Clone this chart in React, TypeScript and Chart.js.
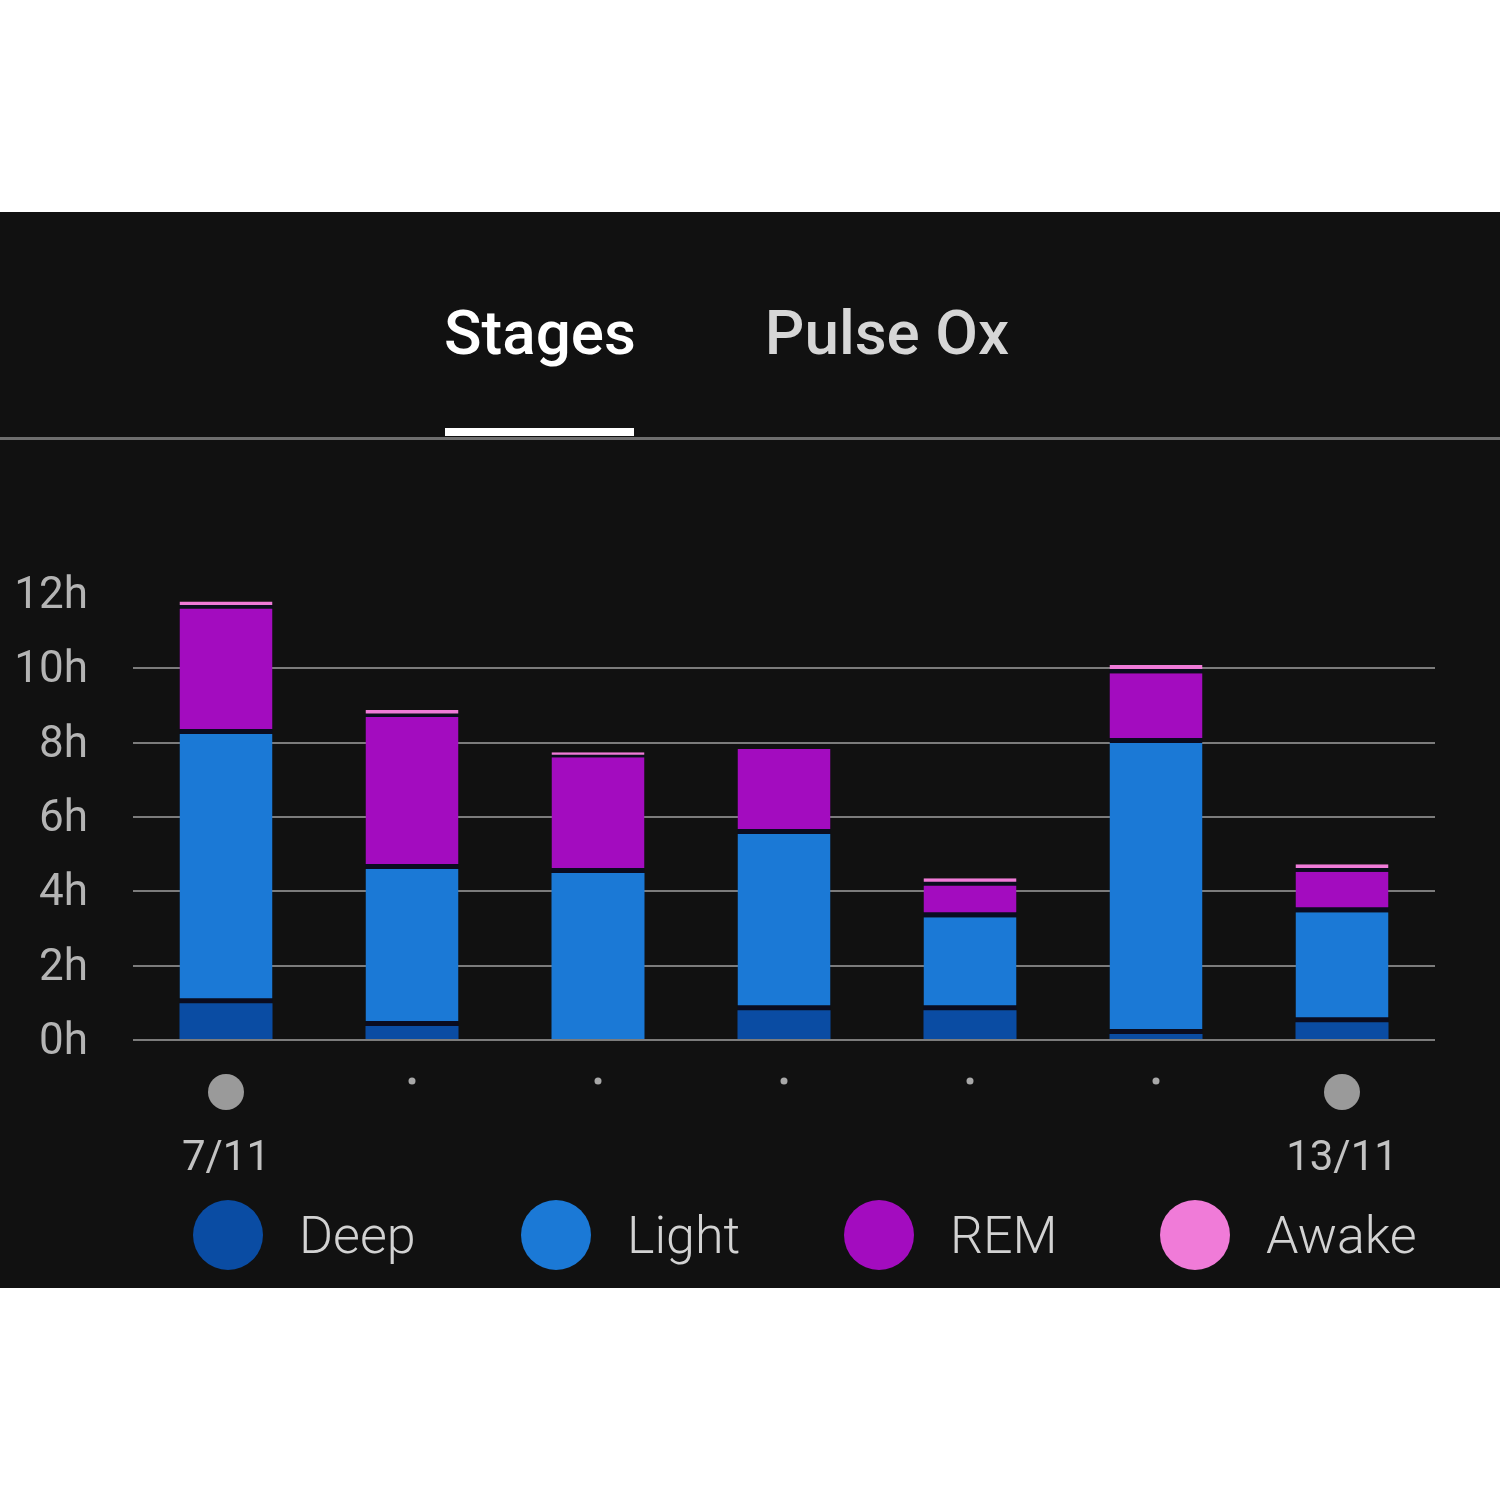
import React, { useEffect, useRef } from "react";
import { Chart, registerables } from "chart.js";
Chart.register(...registerables);

const categories = ["7/11", "8/11", "9/11", "10/11", "11/11", "12/11", "13/11"];
const shownDates = ["7/11", "13/11"];
const deep = [0.99, 0.38, 0, 0.8, 0.8, 0.16, 0.48];
const light = [7.24, 4.22, 4.49, 4.74, 2.5, 7.83, 2.96];
const rem = [3.38, 4.09, 3.12, 2.29, 0.86, 1.88, 1.09];
const awake = [0.19, 0.19, 0.13, 0, 0.19, 0.22, 0.2];
const seriesNames = ["Deep", "Light", "REM", "Awake"];
const seriesColors = ["#0a4ca3", "#1b79d6", "#a30cbf", "#f07bd8"];
const tabs = ["Stages", "Pulse Ox"];
const yMax = 12;
const yStep = 2;

const FONT = "Roboto, 'Noto Sans', sans-serif";

const dotsPlugin = {
  id: "dots",
  afterDraw(chart: any) {
    const ctx = chart.ctx;
    const xs = chart.scales.x;
    ctx.save();
    categories.forEach((c, i) => {
      const x = xs.getPixelForValue(i);
      const big = shownDates.includes(c);
      ctx.beginPath();
      ctx.fillStyle = big ? "#9a9a9a" : "#a8a8a8";
      ctx.arc(x, big ? 632 : 621, big ? 18 : 3.5, 0, Math.PI * 2);
      ctx.fill();
    });
    ctx.restore();
  },
};

export default function App() {
  const ref = useRef<HTMLCanvasElement>(null);
  useEffect(() => {
    if (!ref.current) return;
    const all = [deep, light, rem, awake];
    const chart = new Chart(ref.current, {
      type: "bar",
      data: {
        labels: categories,
        datasets: all.map((d, di) => ({
          label: seriesNames[di],
          data: d,
          backgroundColor: seriesColors[di],
          borderColor: "#0a0c20",
          borderSkipped: false,
          borderWidth: (ctx: any) => {
            const i = ctx.dataIndex;
            let below = 0;
            for (let k = 0; k < di; k++) below += all[k][i] || 0;
            return { top: 0, left: 0, right: 0, bottom: di > 0 && below > 0 ? 5 : 0 };
          },
          categoryPercentage: 1,
          barPercentage: 0.5,
        })),
      },
      plugins: [dotsPlugin],
      options: {
        responsive: false,
        animation: false,
        layout: { padding: { top: 134, right: 65, left: 0, bottom: 0 } },
        plugins: { legend: { display: false }, tooltip: { enabled: false } },
        scales: {
          x: {
            stacked: true,
            grid: { display: false, drawTicks: false },
            border: { display: false },
            afterFit: (s: any) => {
              s.height = 160;
            },
            ticks: {
              autoSkip: false,
              maxRotation: 0,
              padding: 94,
              color: "#c2c2c2",
              font: { family: FONT, size: 42 },
              callback: (_v: any, i: number) => (shownDates.includes(categories[i]) ? categories[i] : ""),
            },
          },
          y: {
            stacked: true,
            min: 0,
            max: yMax,
            grid: {
              drawTicks: false,
              color: (ctx: any) => (ctx.tick && ctx.tick.value === yMax ? "rgba(0,0,0,0)" : "#7c7c7c"),
              lineWidth: 2,
            },
            border: { display: false },
            afterFit: (s: any) => {
              s.width = 133;
            },
            ticks: {
              stepSize: yStep,
              padding: 45,
              labelOffset: 3,
              color: "#b4b4b4",
              font: { family: FONT, size: 44 },
              callback: (v: any) => `${v}h`,
            },
          },
        },
      },
    });
    return () => chart.destroy();
  }, []);

  const legendLefts = [193, 521, 844, 1160];

  return (
    <div style={{ position: "absolute", left: 0, top: 0, width: 1500, height: 1500, background: "#ffffff", fontFamily: FONT }}>
      <div style={{ position: "absolute", left: 0, top: 212, width: 1500, height: 1076, background: "#111111" }}>
        <div style={{ position: "absolute", left: 415, top: 86, width: 250, textAlign: "center", color: "#ffffff", fontSize: 62, fontWeight: 500, lineHeight: "70px", whiteSpace: "nowrap" }}>
          {tabs[0]}
        </div>
        <div style={{ position: "absolute", left: 737, top: 86, width: 300, textAlign: "center", color: "#d6d6d6", fontSize: 62, fontWeight: 500, lineHeight: "70px", whiteSpace: "nowrap" }}>
          {tabs[1]}
        </div>
        <div style={{ position: "absolute", left: 445, top: 216, width: 189, height: 8, background: "#ffffff" }} />
        <div style={{ position: "absolute", left: 0, top: 225, width: 1500, height: 3, background: "#6e6e6e" }} />
        <canvas ref={ref} width={1500} height={740} style={{ position: "absolute", left: 0, top: 248, width: 1500, height: 740 }} />
        {seriesNames.map((n, i) => (
          <div key={n} style={{ position: "absolute", left: legendLefts[i], top: 988, height: 70, display: "flex", alignItems: "center", whiteSpace: "nowrap" }}>
            <div style={{ width: 70, height: 70, borderRadius: 35, background: seriesColors[i] }} />
            <span style={{ marginLeft: 36, color: "#d2d2d2", fontSize: 52, fontWeight: 300 }}>{n}</span>
          </div>
        ))}
      </div>
    </div>
  );
}
